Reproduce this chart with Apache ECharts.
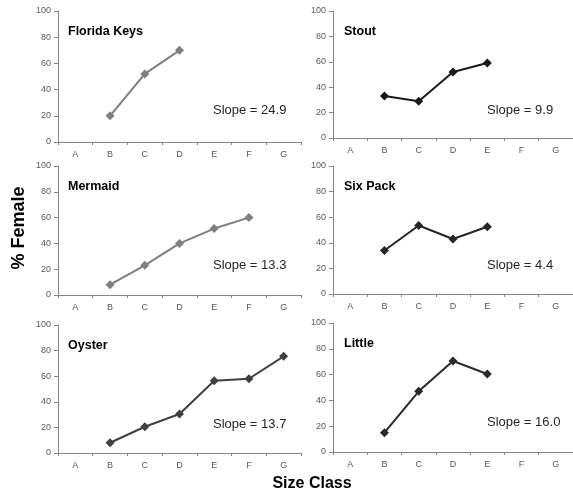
<!DOCTYPE html>
<html>
<head>
<meta charset="utf-8">
<script src="https://cdn.jsdelivr.net/npm/echarts@6/dist/echarts.min.js"></script>
<style>
  html, body { margin: 0; padding: 0; background: #fff; }
  #main { width: 573px; height: 494px; }
</style>
</head>
<body>
<div id="main"></div>
<script>
var sizeClasses = ['A', 'B', 'C', 'D', 'E', 'F', 'G'];
var yTicks = [0, 20, 40, 60, 80, 100];

// % female per size class, null where no data
var floridaKeys = [null, 20, 52, 70, null, null, null];
var stout = [null, 33, 29, 52, 59, null, null];
var mermaid = [null, 8, 23, 40, 51.5, 60, null];
var sixPack = [null, 34, 53.5, 43, 52.5, null, null];
var oyster = [null, 8, 20.5, 30.5, 56.5, 58, 75.5];
var little = [null, 15, 47, 70.5, 60.5, null, null];

var siteNames = ['Florida Keys', 'Stout', 'Mermaid', 'Six Pack', 'Oyster', 'Little'];
var slopes = ['24.9', '9.9', '13.3', '4.4', '13.7', '16.0'];
var siteData = [floridaKeys, stout, mermaid, sixPack, oyster, little];
var lineColors = ['#7f7f7f', '#1a1a1a', '#7f7f7f', '#262626', '#404040', '#2a2a2a'];

// panel layout: [left, top, height]
var panels = [
  [58, 11, 131], [333, 11, 127],
  [58, 166, 129], [333, 166, 128],
  [58, 325, 128], [333, 323, 129]
];

var fontFam = '"Liberation Sans", Arial, sans-serif';
var chart = echarts.init(document.getElementById('main'));

var grids = [], xAxes = [], yAxes = [], series = [], titles = [];

panels.forEach(function (p, i) {
  grids.push({ left: p[0], top: p[1], width: 243, height: p[2] });
  xAxes.push({
    type: 'category',
    gridIndex: i,
    data: sizeClasses,
    boundaryGap: true,
    axisLine: { lineStyle: { color: '#868686', width: 1 } },
    axisTick: { show: true, length: 3, lineStyle: { color: '#868686' } },
    axisLabel: { color: '#595959', fontSize: 9, fontFamily: fontFam, margin: 8 }
  });
  yAxes.push({
    type: 'value',
    gridIndex: i,
    min: yTicks[0],
    max: yTicks[yTicks.length - 1],
    interval: 20,
    splitLine: { show: false },
    axisLine: { show: true, lineStyle: { color: '#868686', width: 1 } },
    axisTick: { show: true, length: 4, lineStyle: { color: '#868686' } },
    axisLabel: { color: '#595959', fontSize: 9, fontFamily: fontFam, margin: 7 }
  });
  series.push({
    type: 'line',
    xAxisIndex: i,
    yAxisIndex: i,
    data: siteData[i],
    symbol: 'diamond',
    symbolSize: 9,
    connectNulls: false,
    lineStyle: { color: lineColors[i], width: 2 },
    itemStyle: { color: lineColors[i] }
  });
  var col = i % 2;
  titles.push({
    text: siteNames[i],
    left: col === 0 ? 68 : 344,
    top: p[1] + 14,
    padding: 0,
    textStyle: { fontSize: 12.5, fontWeight: 'bold', color: '#000', fontFamily: fontFam }
  });
  titles.push({
    text: 'Slope = ' + slopes[i],
    left: col === 0 ? 213 : 487,
    top: p[1] + 93,
    padding: 0,
    textStyle: { fontSize: 13, fontWeight: 'normal', color: '#262626', fontFamily: fontFam }
  });
});

var option = {
  animation: false,
  backgroundColor: '#fff',
  title: titles,
  grid: grids,
  xAxis: xAxes,
  yAxis: yAxes,
  series: series,
  graphic: [{
    type: 'text',
    x: 10,
    y: 228,
    rotation: Math.PI / 2,
    style: {
      text: '% Female',
      fill: '#000',
      font: 'bold 18px "Liberation Sans", Arial, sans-serif',
      align: 'center',
      verticalAlign: 'top'
    }
  }, {
    type: 'text',
    x: 312,
    y: 484,
    style: {
      text: 'Size Class',
      fill: '#000',
      font: 'bold 16px "Liberation Sans", Arial, sans-serif',
      align: 'center',
      verticalAlign: 'middle'
    }
  }]
};

chart.setOption(option);
</script>
</body>
</html>
